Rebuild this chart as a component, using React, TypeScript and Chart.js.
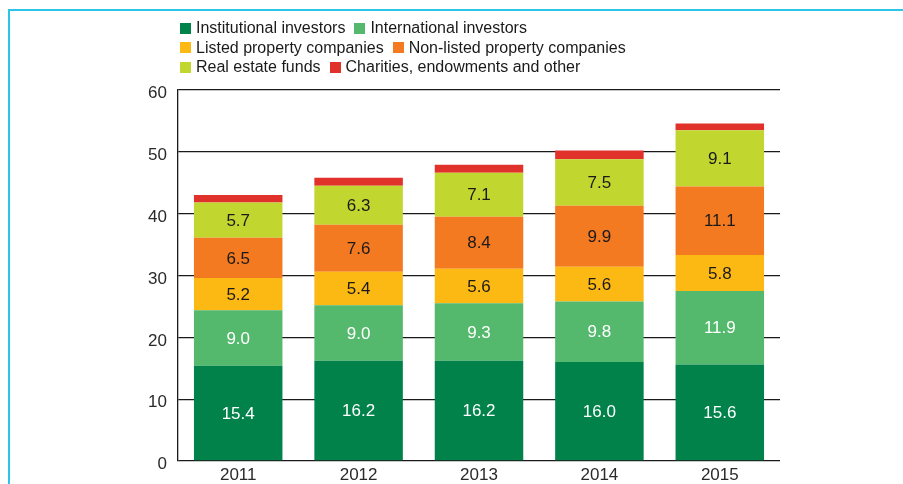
import React, { useEffect, useRef } from "react";
import { Chart, registerables } from "chart.js";

Chart.register(...registerables);

const years = ["2011", "2012", "2013", "2014", "2015"];
const institutional = [15.4, 16.2, 16.2, 16.0, 15.6];
const international = [9.0, 9.0, 9.3, 9.8, 11.9];
const listed = [5.2, 5.4, 5.6, 5.6, 5.8];
const nonListed = [6.5, 7.6, 8.4, 9.9, 11.1];
const realEstateFunds = [5.7, 6.3, 7.1, 7.5, 9.1];
const charities = [1.2, 1.3, 1.3, 1.4, 1.1];

const seriesNames = [
  "Institutional investors",
  "International investors",
  "Listed property companies",
  "Non-listed property companies",
  "Real estate funds",
  "Charities, endowments and other",
];
const seriesColors = ["#00824a", "#55b96d", "#fdb913", "#f37a21", "#c1d72f", "#e0312b"];
const labelColors = ["#ffffff", "#ffffff", "#1a1a1a", "#1a1a1a", "#1a1a1a", null];

const legendRows = [
  [0, 1],
  [2, 3],
  [4, 5],
];

const FONT = "'Liberation Sans', Arial, sans-serif";

const valueLabels = {
  id: "valueLabels",
  afterDatasetsDraw(chart: any) {
    const ctx = chart.ctx;
    ctx.save();
    ctx.font = `17px ${FONT}`;
    ctx.textAlign = "center";
    ctx.textBaseline = "middle";
    chart.data.datasets.forEach((ds: any, di: number) => {
      const color = labelColors[di];
      if (!color) return;
      const meta = chart.getDatasetMeta(di);
      meta.data.forEach((el: any, i: number) => {
        const v = ds.data[i];
        ctx.fillStyle = color;
        ctx.fillText(v.toFixed(1), el.x, (el.y + el.base) / 2 + 1);
      });
    });
    ctx.restore();
  },
};

export default function App() {
  const ref = useRef<HTMLCanvasElement>(null);
  useEffect(() => {
    if (!ref.current) return;
    const allSeries = [institutional, international, listed, nonListed, realEstateFunds, charities];
    const chart = new Chart(ref.current, {
      type: "bar",
      data: {
        labels: years,
        datasets: allSeries.map((d, i) => ({
          label: seriesNames[i],
          data: d,
          backgroundColor: seriesColors[i],
          borderWidth: 0,
          categoryPercentage: 1,
          barPercentage: 0.735,
        })),
      },
      options: {
        animation: false,
        responsive: false,
        devicePixelRatio: 1,
        layout: { padding: { left: 0, right: 123, top: 90, bottom: 0 } },
        plugins: { legend: { display: false }, tooltip: { enabled: false } },
        scales: {
          x: {
            stacked: true,
            grid: { display: false, drawTicks: false },
            border: { display: false },
            ticks: { color: "#2a2a2a", font: { family: FONT, size: 17 }, padding: 4 },
            afterFit: (s: any) => {
              s.height = 23;
            },
          },
          y: {
            stacked: true,
            min: 0,
            max: 60,
            grid: { color: "#1a1a1a", lineWidth: 1.3, drawTicks: false },
            border: { display: true, color: "#1a1a1a", width: 1.3 },
            ticks: {
              stepSize: 10,
              color: "#2a2a2a",
              font: { family: FONT, size: 17 },
              padding: 11,
              labelOffset: 3.5,
            },
            afterFit: (s: any) => {
              s.width = 178;
            },
          },
        },
      },
      plugins: [valueLabels],
    });
    return () => chart.destroy();
  }, []);

  return (
    <div style={{ position: "fixed", left: 0, top: 0, width: 903, height: 484, background: "#fff", overflow: "hidden" }}>
      <div
        style={{
          position: "absolute",
          left: 8,
          top: 9,
          width: 1000,
          height: 1000,
          borderTop: "2px solid #2cc5e8",
          borderLeft: "2px solid #2cc5e8",
        }}
      />
      <canvas ref={ref} width={903} height={484} style={{ position: "absolute", left: 0, top: 0, width: 903, height: 484 }} />
      {legendRows.map((row, ri) => (
        <div
          key={ri}
          style={{
            position: "absolute",
            left: 180,
            top: 18 + ri * 19.5,
            height: 20,
            display: "flex",
            alignItems: "center",
            whiteSpace: "nowrap",
            fontFamily: FONT,
            fontSize: 16,
            color: "#1a1a1a",
          }}
        >
          {row.map((si, k) => (
            <div key={si} style={{ display: "flex", alignItems: "center", marginLeft: k === 0 ? 0 : 9 }}>
              <span
                style={{ display: "inline-block", width: 11, height: 11, background: seriesColors[si], marginRight: 5 }}
              />
              <span>{seriesNames[si]}</span>
            </div>
          ))}
        </div>
      ))}
    </div>
  );
}
